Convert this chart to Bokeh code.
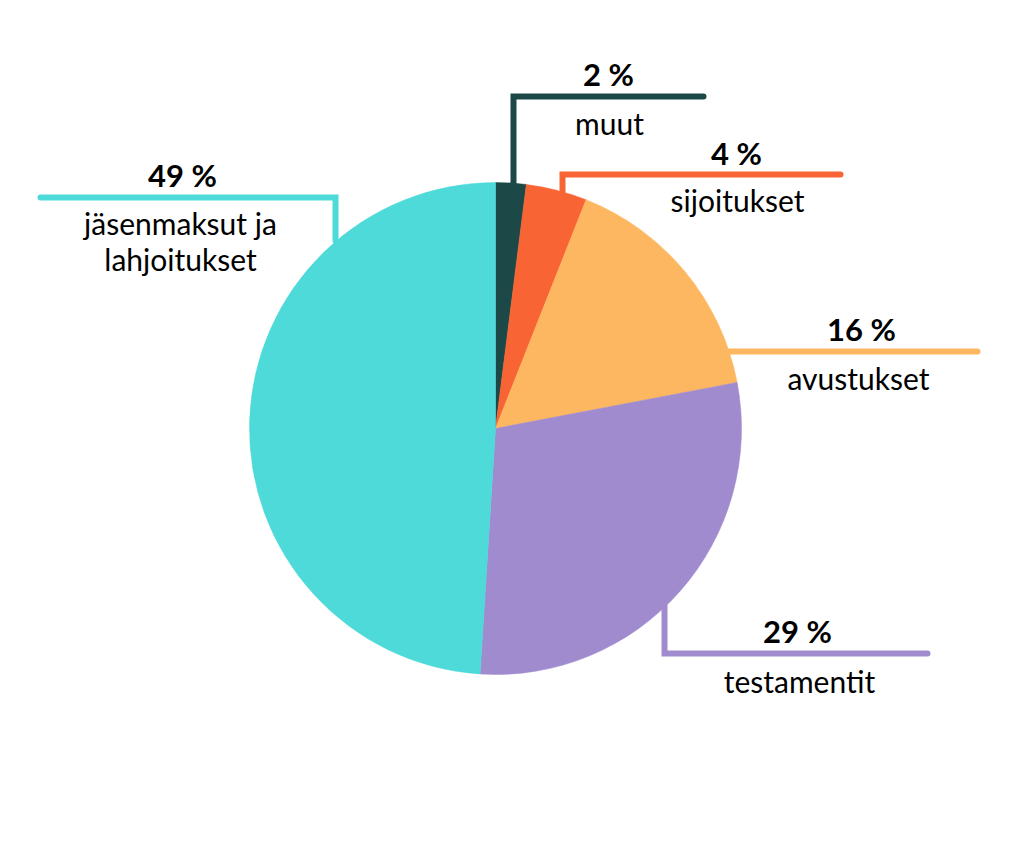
from math import pi

from bokeh.core.properties import value
from bokeh.embed import file_html
from bokeh.models import ColumnDataSource, Range1d
from bokeh.plotting import figure
from bokeh.resources import INLINE

# Funding sources, in drawing order (clockwise from 12 o'clock)
categories = ["muut", "sijoitukset", "avustukset", "testamentit", "jäsenmaksut ja\nlahjoitukset"]
shares = [2, 4, 16, 29, 49]
pct_labels = ["2 %", "4 %", "16 %", "29 %", "49 %"]
colors = ["#1c4848", "#f86433", "#fdb760", "#a08bcf", "#4ddad9"]

W, H = 1024, 853
CX, CY, R = 495, H - 428, 246

p = figure(width=W, height=H, x_range=Range1d(0, W), y_range=Range1d(0, H),
           output_backend="svg", toolbar_location=None, min_border=0,
           background_fill_color="white", border_fill_color="white")
p.axis.visible = False
p.grid.visible = False
p.outline_line_color = None

# Leader lines (pixel layout, y measured from top), drawn beneath the pie
leaders = [
    ([513, 513, 703], [200, 96, 96]),
    ([562, 562, 840], [215, 174, 174]),
    ([700, 977], [351, 351]),
    ([664, 664, 927], [600, 653, 653]),
    ([40, 335, 335], [197, 197, 240]),
]
for (xs, ys), c in zip(leaders, colors):
    p.line(xs, [H - y for y in ys], line_color=c, line_width=6,
           line_cap="round", line_join="miter")

# Pie wedges
total = sum(shares)
starts, ends = [], []
acc = 0.0
for s in shares:
    a0 = pi / 2 - 2 * pi * acc / total
    acc += s
    a1 = pi / 2 - 2 * pi * acc / total
    starts.append(a1)
    ends.append(a0)
src = ColumnDataSource(dict(start=starts, end=ends, color=colors))
p.wedge(x=CX, y=CY, radius=R, start_angle="start", end_angle="end",
        direction="anticlock", fill_color="color", line_color="color",
        line_width=0.5, source=src)

# Label positions (pixel layout, y from top)
pct_pos = [(608, 73), (736, 152), (861, 328), (797, 630), (182, 174)]
name_pos = [(609, 122), (737, 199), (858, 377), (799, 680), (180, 240)]

p.text(x=[x for x, _ in pct_pos], y=[H - y for _, y in pct_pos], text=pct_labels,
       text_font=value("Lato"), text_font_style="bold", text_font_size="31px",
       text_color="black", text_align="center", text_baseline="middle")
p.text(x=[x for x, _ in name_pos], y=[H - y for _, y in name_pos], text=categories,
       text_font=value("Lato"), text_font_size="30px", text_color="black",
       text_align="center", text_baseline="middle", text_line_height=1.0)

open("out.html", "w").write(file_html(p, INLINE))
